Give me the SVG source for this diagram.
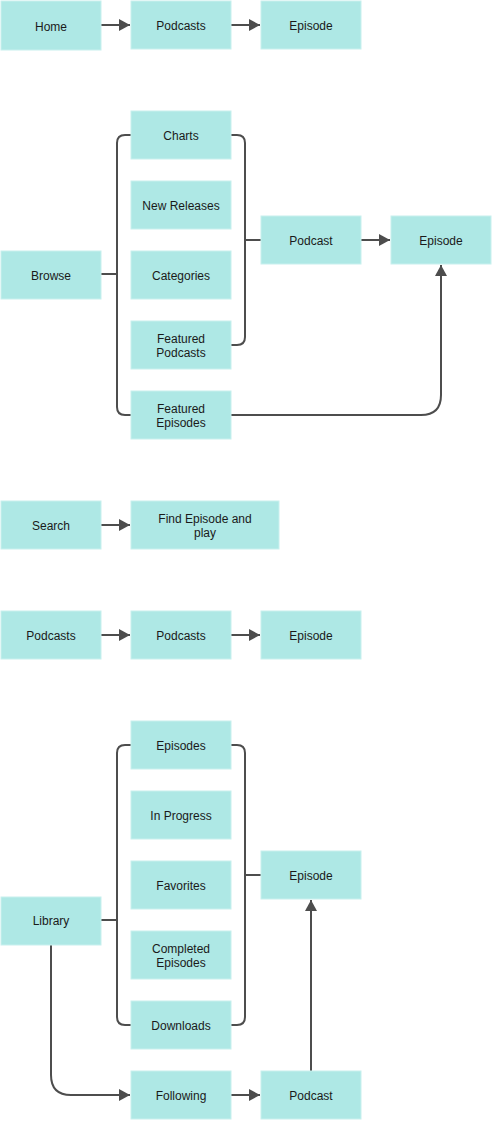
<svg xmlns="http://www.w3.org/2000/svg" width="494" height="1122" viewBox="0 0 494 1122">
<style>
.n rect{fill:#aee8e5;stroke:#c8f0ee;stroke-width:1}
.n text{font-family:"Liberation Sans",Arial,sans-serif;font-size:12px;fill:#1a1a1a;text-anchor:middle;dominant-baseline:central}
.c path{fill:none;stroke:#4d4d4d;stroke-width:2}
</style>
<defs>
<marker id="ah" markerWidth="12" markerHeight="12" viewBox="0 0 12 12" refX="11" refY="6" orient="auto" markerUnits="userSpaceOnUse">
<path d="M0,0 L11,6 L0,12 Z" fill="#4d4d4d"/>
</marker>
</defs>
<rect width="494" height="1122" fill="#fff"/>
<g class="c">
<path d="M101,25 H130" marker-end="url(#ah)"/>
<path d="M231,25 H260" marker-end="url(#ah)"/>
<path d="M101,274 H117"/>
<path d="M131,135 H125 Q117,135 117,143 V407 Q117,415 125,415 H131"/>
<path d="M231,135 H237 Q245,135 245,143 V337 Q245,345 237,345 H231"/>
<path d="M245,240 H261"/>
<path d="M361,240 H390" marker-end="url(#ah)"/>
<path d="M231,415 H421 Q441,415 441,395 V265" marker-end="url(#ah)"/>
<path d="M101,525 H130" marker-end="url(#ah)"/>
<path d="M101,635 H130" marker-end="url(#ah)"/>
<path d="M231,635 H260" marker-end="url(#ah)"/>
<path d="M101,920 H117"/>
<path d="M131,745 H125 Q117,745 117,753 V1017 Q117,1025 125,1025 H131"/>
<path d="M231,745 H237 Q245,745 245,753 V1017 Q245,1025 237,1025 H231"/>
<path d="M245,875 H261"/>
<path d="M51,945 V1075 Q51,1095 71,1095 H130" marker-end="url(#ah)"/>
<path d="M231,1095 H260" marker-end="url(#ah)"/>
<path d="M311,1071 V900" marker-end="url(#ah)"/>
</g>
<g id="home" class="n"><rect x="1" y="1" width="100" height="49"/><text x="51" y="26.5">Home</text></g>
<g id="podcasts1" class="n"><rect x="131" y="1" width="100" height="48"/><text x="181" y="26">Podcasts</text></g>
<g id="episode1" class="n"><rect x="261" y="1" width="100" height="48"/><text x="311" y="26">Episode</text></g>
<g id="charts" class="n"><rect x="131" y="111" width="100" height="48"/><text x="181" y="136">Charts</text></g>
<g id="newreleases" class="n"><rect x="131" y="181" width="100" height="48"/><text x="181" y="206">New Releases</text></g>
<g id="categories" class="n"><rect x="131" y="251" width="100" height="48"/><text x="181" y="276">Categories</text></g>
<g id="featuredpodcasts" class="n"><rect x="131" y="321" width="100" height="48"/><text x="181" y="339">Featured</text><text x="181" y="353">Podcasts</text></g>
<g id="featuredepisodes" class="n"><rect x="131" y="391" width="100" height="48"/><text x="181" y="409">Featured</text><text x="181" y="423">Episodes</text></g>
<g id="browse" class="n"><rect x="1" y="251" width="100" height="48"/><text x="51" y="276">Browse</text></g>
<g id="podcast2" class="n"><rect x="261" y="216" width="100" height="48"/><text x="311" y="241">Podcast</text></g>
<g id="episode2" class="n"><rect x="391" y="216" width="100" height="48"/><text x="441" y="241">Episode</text></g>
<g id="search" class="n"><rect x="1" y="501" width="100" height="48"/><text x="51" y="526">Search</text></g>
<g id="findepisode" class="n"><rect x="131" y="501" width="148" height="48"/><text x="205" y="519">Find Episode and</text><text x="205" y="533">play</text></g>
<g id="podcasts3" class="n"><rect x="1" y="611" width="100" height="48"/><text x="51" y="636">Podcasts</text></g>
<g id="podcasts4" class="n"><rect x="131" y="611" width="100" height="48"/><text x="181" y="636">Podcasts</text></g>
<g id="episode3" class="n"><rect x="261" y="611" width="100" height="48"/><text x="311" y="636">Episode</text></g>
<g id="episodes" class="n"><rect x="131" y="721" width="100" height="48"/><text x="181" y="746">Episodes</text></g>
<g id="inprogress" class="n"><rect x="131" y="791" width="100" height="48"/><text x="181" y="816">In Progress</text></g>
<g id="favorites" class="n"><rect x="131" y="861" width="100" height="48"/><text x="181" y="886">Favorites</text></g>
<g id="completed" class="n"><rect x="131" y="931" width="100" height="48"/><text x="181" y="949">Completed</text><text x="181" y="963">Episodes</text></g>
<g id="downloads" class="n"><rect x="131" y="1001" width="100" height="48"/><text x="181" y="1026">Downloads</text></g>
<g id="library" class="n"><rect x="1" y="897" width="100" height="48"/><text x="51" y="921">Library</text></g>
<g id="episode4" class="n"><rect x="261" y="851" width="100" height="48"/><text x="311" y="876">Episode</text></g>
<g id="following" class="n"><rect x="131" y="1071" width="100" height="48"/><text x="181" y="1096">Following</text></g>
<g id="podcast5" class="n"><rect x="261" y="1071" width="100" height="48"/><text x="311" y="1096">Podcast</text></g>
</svg>
